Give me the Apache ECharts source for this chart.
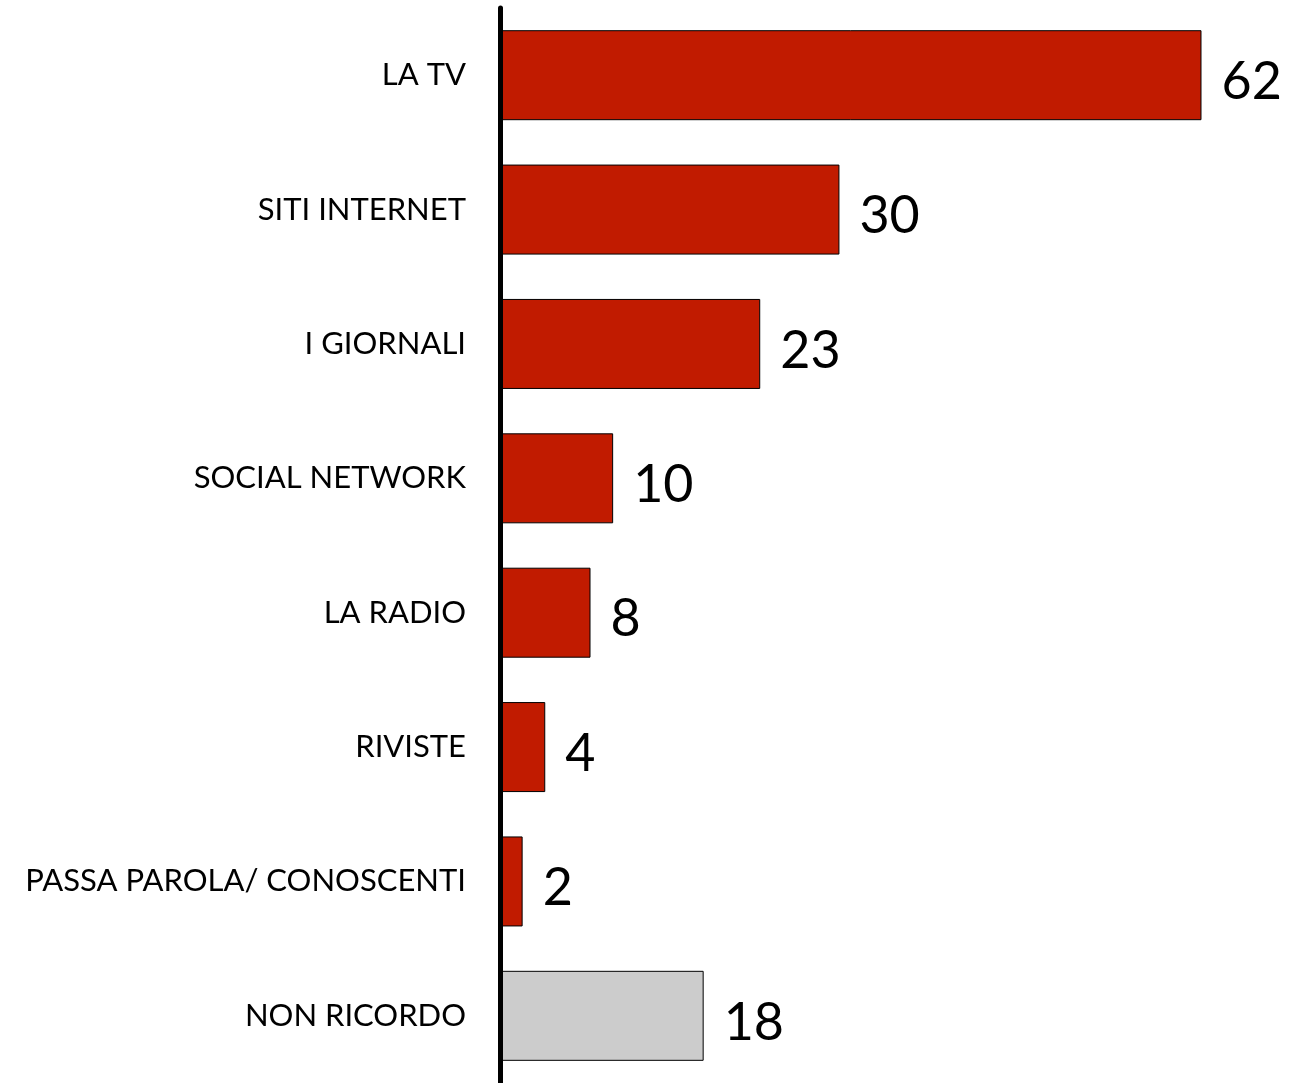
<!DOCTYPE html>
<html>
<head>
<meta charset="utf-8">
<script src="https://cdn.jsdelivr.net/npm/echarts@6/dist/echarts.min.js"></script>
<style>
  html, body { margin: 0; padding: 0; background: #fff; }
  #chart { width: 1292px; height: 1083px; }
</style>
</head>
<body>
<div id="chart"></div>
<script>
// categories top to bottom
const categories = ['LA TV', 'SITI INTERNET', 'I GIORNALI', 'SOCIAL NETWORK', 'LA RADIO', 'RIVISTE', 'PASSA PAROLA/ CONOSCENTI', 'NON RICORDO']
const values = [62, 30, 23, 10, 8, 4, 2, 18]
const barColors = ['#C11B00', '#C11B00', '#C11B00', '#C11B00', '#C11B00', '#C11B00', '#C11B00', '#CCCCCC']

const chart = echarts.init(document.getElementById('chart'))

// barre con colore per categoria
const barData = values.map((v, i) => ({
  value: v,
  itemStyle: { color: barColors[i] }
}))

chart.setOption({
  animation: false,
  textStyle: { fontFamily: 'Lato' },
  grid: { left: 500, top: 8, width: 798, height: 1076 },
  xAxis: {
    type: 'value',
    min: 0,
    max: 70,
    show: false
  },
  yAxis: {
    type: 'category',
    data: categories,
    inverse: true,
    z: 5,
    axisLine: { lineStyle: { color: '#000', width: 5 } },
    axisTick: { show: false },
    axisLabel: { margin: 34, fontSize: 31, color: '#000', fontFamily: 'Lato', padding: [10, 0, 0, 0] }
  },
  series: [{
    type: 'bar',
    barWidth: 90,
    data: barData,
    itemStyle: { borderColor: '#000', borderWidth: 1 },
    label: {
      show: true,
      position: 'right',
      distance: 20,
      offset: [0, 7],
      fontSize: 52,
      color: '#000',
      fontFamily: 'Lato'
    }
  }]
})
</script>
</body>
</html>
